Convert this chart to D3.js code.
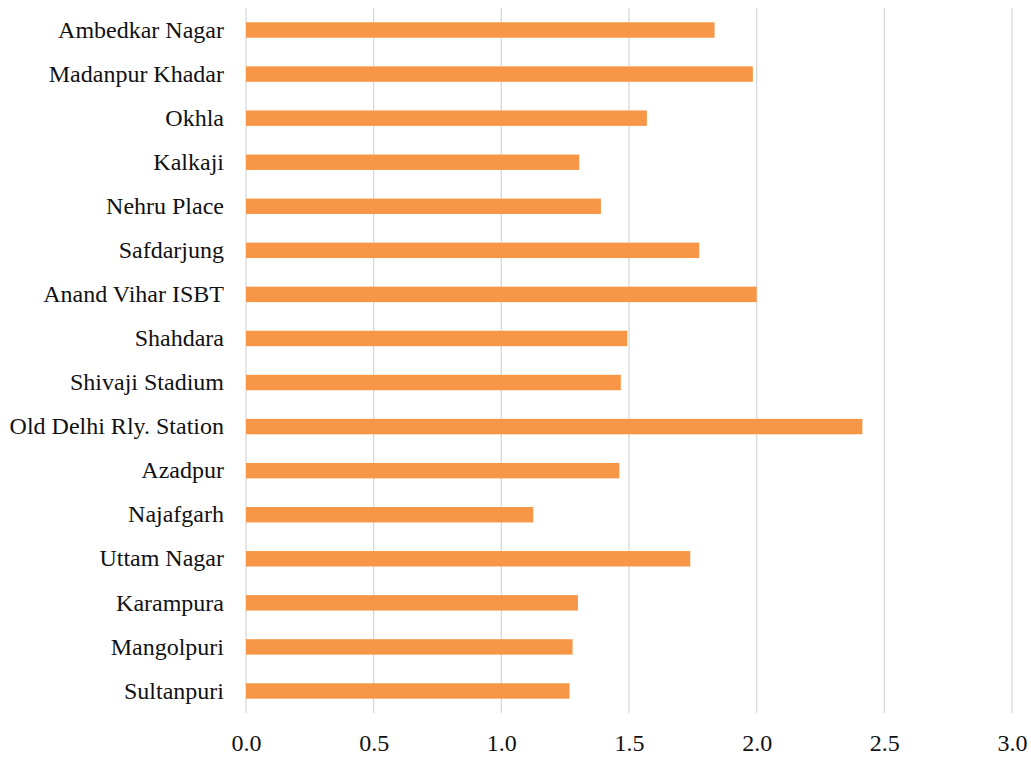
<!DOCTYPE html>
<html>
<head>
<meta charset="utf-8">
<script src="https://cdnjs.cloudflare.com/ajax/libs/d3/7.8.5/d3.min.js"></script>
<style>
  body { margin: 0; background: #fff; }
</style>
</head>
<body>
<svg id="chart" width="1031" height="757"></svg>
<script>
    // stations, top to bottom
    var stations = [
      "Ambedkar Nagar", "Madanpur Khadar", "Okhla", "Kalkaji", "Nehru Place",
      "Safdarjung", "Anand Vihar ISBT", "Shahdara", "Shivaji Stadium",
      "Old Delhi Rly. Station", "Azadpur", "Najafgarh", "Uttam Nagar",
      "Karampura", "Mangolpuri", "Sultanpuri"
    ];
    var values = [
      1.835, 1.985, 1.57, 1.305, 1.39,
      1.775, 2.0, 1.493, 1.468,
      2.414, 1.462, 1.125, 1.74,
      1.30, 1.279, 1.267
    ];
    var xTicks = [0, 0.5, 1.0, 1.5, 2.0, 2.5, 3.0];

    var labelFont = "'Liberation Serif', 'Times New Roman', serif";

    var svg = d3.select("#chart");
    var margin = {top: 8, right: 19, bottom: 44, left: 246};
    var width = +svg.attr("width") - margin.left - margin.right,
        height = +svg.attr("height") - margin.top - margin.bottom;

    var g = svg.append("g")
      .attr("transform", "translate(" + margin.left + "," + margin.top + ")");

    var x = d3.scaleLinear().domain([0, 3]).range([0, width]);
    var y = d3.scaleBand().domain(stations).range([0, height]).paddingInner(0.65).paddingOuter(0.325);

    // gridlines
    g.append("g")
      .selectAll("line")
      .data(xTicks)
      .enter().append("line")
      .attr("x1", function(d) { return x(d); })
      .attr("x2", function(d) { return x(d); })
      .attr("y1", 0)
      .attr("y2", height)
      .attr("stroke", "#d9d9d9")
      .attr("stroke-width", 1.3);

    // bars
    g.append("g")
      .selectAll("rect")
      .data(stations)
      .enter().append("rect")
      .attr("x", x(0))
      .attr("y", function(d) { return y(d); })
      .attr("width", function(d, i) { return x(values[i]) - x(0); })
      .attr("height", y.bandwidth())
      .attr("fill", "#f79646");

    // x axis labels
    var xAxis = d3.axisBottom(x)
      .tickValues(xTicks)
      .tickFormat(d3.format(".1f"))
      .tickSize(0)
      .tickPadding(21);
    g.append("g")
      .attr("transform", "translate(0," + height + ")")
      .call(xAxis)
      .call(function(a) { a.select(".domain").remove(); })
      .selectAll("text")
      .style("font-size", "24px")
      .style("font-family", labelFont)
      .style("fill", "#111");

    // y axis labels
    var yAxis = d3.axisLeft(y).tickSize(0).tickPadding(22);
    g.append("g")
      .call(yAxis)
      .call(function(a) { a.select(".domain").remove(); })
      .selectAll("text")
      .style("font-size", "24px")
      .style("font-family", labelFont)
      .style("fill", "#111");
</script>
</body>
</html>
